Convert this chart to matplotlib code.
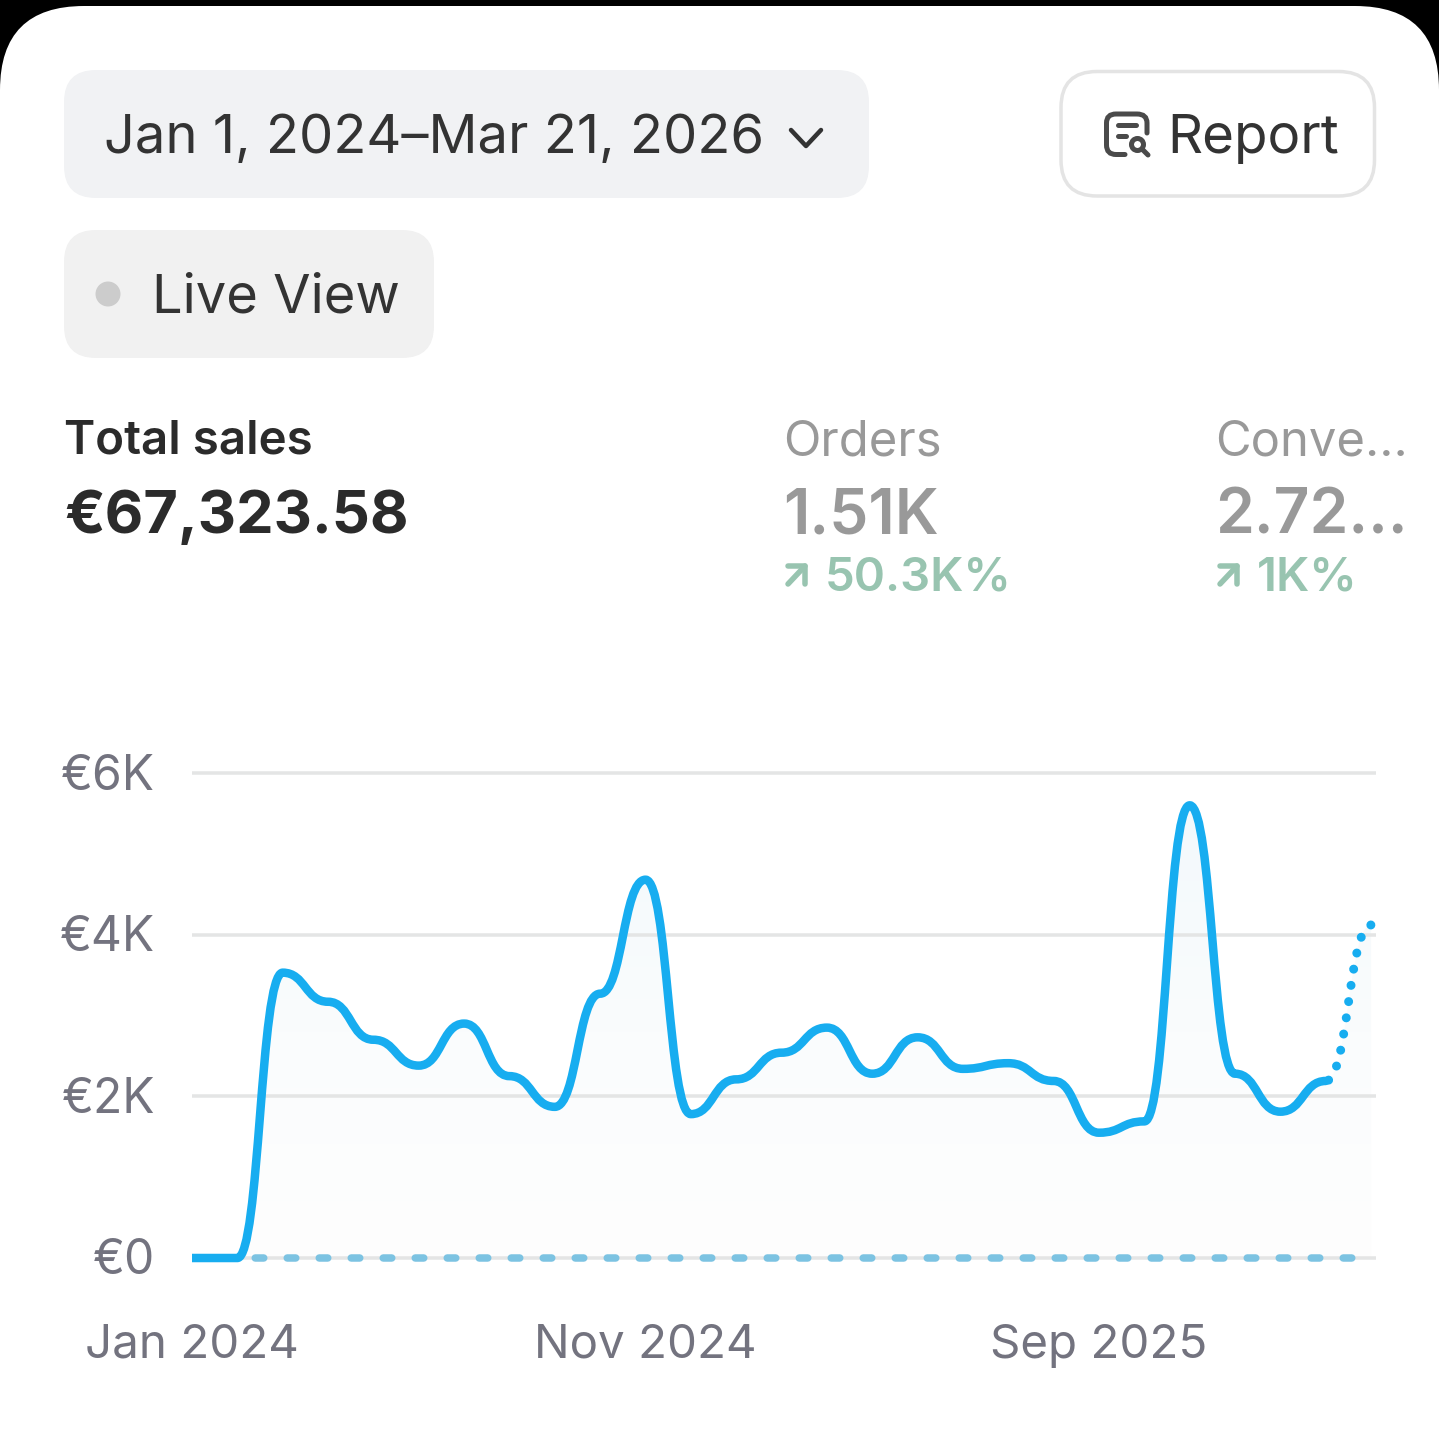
import numpy as np
import matplotlib
matplotlib.use("Agg")
import matplotlib.pyplot as plt
from matplotlib.patches import FancyBboxPatch, PathPatch, Rectangle, Circle
from matplotlib.path import Path
from matplotlib.colors import LinearSegmentedColormap
from matplotlib.transforms import ScaledTranslation

# ---- data ----
months = list(range(27))  # Jan 2024 .. Mar 2026
sales_k = [0, 0, 3.53, 3.17, 2.70, 2.38, 2.90, 2.25, 1.87, 3.27, 4.68, 1.78, 2.21, 2.54, 2.85,
           2.28, 2.73, 2.34, 2.41, 2.19, 1.55, 1.69, 5.60, 2.28, 1.81, 2.19, 4.12]
comparison_k = [0] * 27
y_ticks = [0, 2, 4, 6]
y_tick_labels = ["€0", "€2K", "€4K", "€6K"]
x_ticks = [0, 10, 20]
x_tick_labels = ["Jan 2024", "Nov 2024", "Sep 2025"]
date_range = "Jan 1, 2024–Mar 21, 2026"
live_label = "Live View"
report_label = "Report"
metric_names = ["Total sales", "Orders", "Conve..."]
metric_values = ["€67,323.58", "1.51K", "2.72..."]
metric_changes = ["50.3K%", "1K%"]

# ---- style ----
W, H = 1439, 1455
plt.rcParams["font.family"] = ["Inter", "DejaVu Sans"]
plt.rcParams["lines.scale_dashes"] = False
PX = 0.72
BLUE = "#17adf0"
GREEN = "#98c4b0"
GREY = "#999999"
DARK = "#333333"
AXIS = "#73737f"
GRID = "#e4e5e5"

fig = plt.figure(figsize=(W / 100, H / 100), dpi=100, facecolor="black")

# ---- interface layer, pixel coordinates ----
ui = fig.add_axes([0, 0, 1, 1])
ui.set_xlim(0, W)
ui.set_ylim(H, 0)
ui.axis("off")


def pill(x0, y0, x1, y1, r, fc, ec="none", lw=0.0):
    ui.add_patch(FancyBboxPatch((x0 + r, y0 + r), x1 - x0 - 2 * r, y1 - y0 - 2 * r,
                                boxstyle=f"round,pad={r},rounding_size={r}",
                                fc=fc, ec=ec, lw=lw * PX, mutation_aspect=1))


pill(0, 6, W, H + 200, 84, "white")
pill(64, 70, 869, 198, 32, "#f1f2f4")
pill(64, 230, 434, 358, 32, "#f1f1f1")
pill(1061, 71.5, 1374.5, 196, 36, "white", "#e4e4e4", 3.5)
ui.add_patch(Circle((108, 294), 12.5, fc="#cccccc", ec="none"))


def stroke(xs, ys, color, lw):
    ui.plot(xs, ys, color=color, lw=lw * PX, solid_capstyle="round", solid_joinstyle="round")


stroke([791, 806, 821], [130, 146, 130], "#333333", 4.5)

# report icon
ICON = "#4a4a4a"
icon_path = Path(
    [(1125, 154.5), (1116, 154.5), (1106.5, 154.5), (1106.5, 145), (1106.5, 123),
     (1106.5, 114), (1116, 114), (1137, 114), (1147, 114), (1147, 123), (1147, 133)],
    [Path.MOVETO, Path.LINETO, Path.CURVE3, Path.CURVE3, Path.LINETO,
     Path.CURVE3, Path.CURVE3, Path.LINETO, Path.CURVE3, Path.CURVE3, Path.LINETO])
ui.add_patch(PathPatch(icon_path, fc="none", ec=ICON, lw=5 * PX, capstyle="round"))
stroke([1118, 1136], [125, 125], ICON, 5)
stroke([1118, 1126], [136, 136], ICON, 5)
ui.add_patch(Circle((1137.5, 144.5), 6, fc="none", ec=ICON, lw=5 * PX))
stroke([1142, 1148], [149, 155], ICON, 5)

ui.text(104.5, 133.5, date_range, fontsize=54.3 * PX, color=DARK, va="center_baseline", ha="left")
ui.text(152.5, 293, live_label, fontsize=54.3 * PX, color=DARK, va="center_baseline", ha="left")
ui.text(1167, 133, report_label, fontsize=54.7 * PX, color=DARK, va="center_baseline", ha="left")

ui.text(64, 437, metric_names[0], fontsize=47.5 * PX, color="#2b2b2b", weight="semibold", va="center_baseline")
ui.text(64, 511, metric_values[0], fontsize=59.5 * PX, color="#2b2b2b", weight="bold", va="center_baseline")
for x, name, val in zip([783.5, 1215.5], metric_names[1:], metric_values[1:]):
    ui.text(x, 437.5, name, fontsize=49 * PX, color=GREY, va="center_baseline")
    ui.text(x, 511, val, fontsize=62.4 * PX, color=GREY, weight="semibold", va="center_baseline")
for x, change in zip([785, 1217], metric_changes):
    stroke([x + 3, x + 20, x + 20], [566, 566, 584], GREEN, 5.5)
    stroke([x + 20, x + 3], [566, 584], GREEN, 5.5)
    ui.text(x + 39.5, 573.5, change, fontsize=47.3 * PX, color=GREEN, weight="semibold", va="center_baseline")

# ---- chart ----
L, R, T, B = 192, 1376, 773, 1258
ax = fig.add_axes([L / W, 1 - B / H, (R - L) / W, (B - T) / H])
ax.patch.set_alpha(0)
px_per_month = 45.35
ax.set_xlim(0, (R - L) / px_per_month)
ax.set_ylim(0, 6)
for s in ax.spines.values():
    s.set_visible(False)
ax.set_yticks(y_ticks, y_tick_labels)
ax.set_xticks(x_ticks, x_tick_labels)
ax.tick_params(axis="both", length=0, labelcolor=AXIS)
ax.tick_params(axis="y", pad=26.5, labelsize=48 * PX)
ax.tick_params(axis="x", pad=65.5 * PX, labelsize=47.5 * PX)
for lab in ax.get_yticklabels():
    lab.set_va("center_baseline")
    lab.set_transform(lab.get_transform() + ScaledTranslation(0, 1.5 / 100, fig.dpi_scale_trans))
ax.grid(axis="y", color=GRID, lw=3.5 * PX, solid_capstyle="butt")
ax.grid(axis="x", visible=False)
for gl in ax.get_ygridlines():
    gl.set_clip_on(False)


def bump(xs, ys):
    """Path through the points with a level tangent at each of them."""
    verts, codes = [(xs[0], ys[0])], [Path.MOVETO]
    for i in range(len(xs) - 1):
        m = (xs[i] + xs[i + 1]) / 2
        verts += [(m, ys[i]), (m, ys[i + 1]), (xs[i + 1], ys[i + 1])]
        codes += [Path.CURVE4] * 3
    return verts, codes


# clip that keeps the lines square at the axis start but lets them overhang the baseline
line_clip = Rectangle((0, -1), 40, 8, transform=ax.transData)

# gradient area under the whole series
v, c = bump(months, sales_k)
area = Path(v + [(months[-1], 0), (months[0], 0), (months[0], 0)],
            c + [Path.LINETO, Path.LINETO, Path.CLOSEPOLY])
cmap = LinearSegmentedColormap.from_list("area", ["#f3f9fc", "#fafcfd", "#fefefe"])
xmin, xmax = ax.get_xlim()
img = ax.imshow(np.linspace(0, 1, 256).reshape(-1, 1), cmap=cmap, aspect="auto", origin="upper",
                extent=(months[0], months[-1], 0, max(sales_k)), zorder=1)
img.set_clip_path(PathPatch(area, transform=ax.transData))
ax.set_xlim(xmin, xmax)
ax.set_ylim(0, 6)

# comparison series
comp, = ax.plot(months, comparison_k, color="#7cc3e2", lw=7.5 * PX,
                linestyle=(0.75 * PX, (8.5 * PX, 23.5 * PX)), dash_capstyle="round", zorder=3)
comp.set_clip_path(line_clip)

# dotted current period
dv, dc = bump(months[-2:], sales_k[-2:])
ax.add_patch(PathPatch(Path(dv, dc), fc="none", ec=BLUE, lw=9 * PX, clip_on=False,
                       linestyle=(13.4 * PX, (0.01, 16.4 * PX)), capstyle="round", zorder=4))

# solid series
sv, sc = bump(months[:-1], sales_k[:-1])
solid = PathPatch(Path(sv, sc), fc="none", ec=BLUE, lw=8.5 * PX, capstyle="round", joinstyle="round", zorder=5)
ax.add_patch(solid)
solid.set_clip_path(line_clip)

fig.savefig("out.png", dpi=100, facecolor="black")
